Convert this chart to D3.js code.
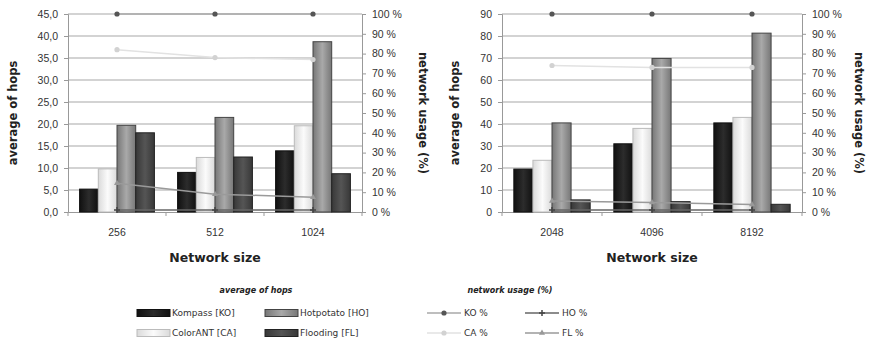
<!DOCTYPE html>
<html>
<head>
<meta charset="utf-8">
<script src="https://cdn.jsdelivr.net/npm/d3@7"></script>
<style>
  html, body { margin: 0; padding: 0; background: #fff; }
  svg { display: block; font-family: "DejaVu Sans", Verdana, sans-serif; }
</style>
</head>
<body>
<svg id="chart" width="871" height="346"></svg>
<script>
// Network sizes (x categories) for the two panels
const sizesSmall = ["256", "512", "1024"];
const sizesLarge = ["2048", "4096", "8192"];

// Average number of hops per protocol
const hopsKO_small = [5.2, 9.0, 13.9];
const hopsCA_small = [9.8, 12.4, 19.6];
const hopsHO_small = [19.7, 21.5, 38.7];
const hopsFL_small = [18.0, 12.5, 8.7];

const hopsKO_large = [19.5, 31.0, 40.5];
const hopsCA_large = [23.5, 38.0, 43.0];
const hopsHO_large = [40.5, 69.8, 81.3];
const hopsFL_large = [5.5, 4.7, 3.5];

// Network usage in percent per protocol
const usageKO_small = [100, 100, 100];
const usageCA_small = [82, 78, 77];
const usageHO_small = [1, 1, 1];
const usageFL_small = [14.5, 9, 7.5];

const usageKO_large = [100, 100, 100];
const usageCA_large = [74, 73, 73];
const usageHO_large = [1, 1, 1];
const usageFL_large = [5.5, 4.8, 3.8];

// Axis ticks
const hopTicksSmall = [0, 5, 10, 15, 20, 25, 30, 35, 40, 45];
const hopTicksLarge = [0, 10, 20, 30, 40, 50, 60, 70, 80, 90];
const usageTicks = [0, 10, 20, 30, 40, 50, 60, 70, 80, 90, 100];

const barSeries = ["Kompass [KO]", "ColorANT [CA]", "Hotpotato [HO]", "Flooding [FL]"];
const lineSeries = ["KO %", "HO %", "CA %", "FL %"];

const svg = d3.select("#chart");
const defs = svg.append("defs");

// Bar fills
function hGrad(id, stops) {
  const g = defs.append("linearGradient").attr("id", id)
    .attr("x1", "0%").attr("x2", "100%").attr("y1", "0%").attr("y2", "0%");
  stops.forEach(([o, c]) => g.append("stop").attr("offset", o).attr("stop-color", c));
}
hGrad("gKO", [["0%", "#101010"], ["50%", "#2c2c2c"], ["100%", "#101010"]]);
hGrad("gCA", [["0%", "#dadada"], ["50%", "#fbfbfb"], ["100%", "#dadada"]]);
hGrad("gHO", [["0%", "#777"], ["50%", "#a9a9a9"], ["100%", "#777"]]);
hGrad("gFL", [["0%", "#383838"], ["50%", "#555"], ["100%", "#383838"]]);

const barStyle = {
  "Kompass [KO]":  { fill: "url(#gKO)", stroke: "#111" },
  "ColorANT [CA]": { fill: "url(#gCA)", stroke: "#bbb" },
  "Hotpotato [HO]":{ fill: "url(#gHO)", stroke: "#444" },
  "Flooding [FL]": { fill: "url(#gFL)", stroke: "#222" }
};
const lineStyle = {
  "KO %": { stroke: "#a8a8a8", marker: "dot", mfill: "#555" },
  "HO %": { stroke: "#666", marker: "plus", mfill: "#444" },
  "CA %": { stroke: "#e2e2e2", marker: "dot", mfill: "#d2d2d2" },
  "FL %": { stroke: "#9a9a9a", marker: "tri", mfill: "#999" }
};

function drawMarker(g, type, x, y, st) {
  if (type === "dot") {
    g.append("circle").attr("cx", x).attr("cy", y).attr("r", 2.6).attr("fill", st.mfill);
  } else if (type === "plus") {
    g.append("path").attr("d", `M${x-3},${y}H${x+3}M${x},${y-3}V${y+3}`)
      .attr("stroke", st.mfill).attr("stroke-width", 1.5);
  } else {
    g.append("path").attr("d", d3.symbol(d3.symbolTriangle, 16)())
      .attr("transform", `translate(${x},${y})`).attr("fill", st.mfill);
  }
}

function panel(cfg) {
  const g = svg.append("g");
  const { left, right, top, bottom } = cfg;

  const x0 = d3.scaleBand().domain(cfg.sizes).range([left, right]).padding(0);
  const x1 = d3.scaleBand().domain(barSeries).range([0, x0.bandwidth()])
    .paddingInner(0).paddingOuter(cfg.outerPad);
  const y = d3.scaleLinear().domain([0, cfg.hopMax]).range([bottom, top]);
  const yr = d3.scaleLinear().domain([0, 100]).range([bottom, top]);

  // horizontal gridlines
  g.append("g").selectAll("line").data(cfg.hopTicks.slice(1)).join("line")
    .attr("x1", left).attr("x2", right)
    .attr("y1", d => y(d)).attr("y2", d => y(d))
    .attr("stroke", "#c4c4c4").attr("stroke-width", 1.6);

  // left axis
  const ax = g.append("g").attr("transform", `translate(${left},0)`)
    .call(d3.axisLeft(y).tickValues(cfg.hopTicks).tickSize(4).tickPadding(6)
      .tickFormat(cfg.hopFormat));
  ax.select(".domain").attr("stroke", "#999");
  ax.selectAll(".tick line").attr("stroke", "#999");
  ax.selectAll("text").attr("font-size", 10.5).attr("fill", "#333");

  // right axis
  const ar = g.append("g").attr("transform", `translate(${right},0)`)
    .call(d3.axisRight(yr).tickValues(usageTicks).tickSize(4).tickPadding(6)
      .tickFormat(d => d + " %"));
  ar.select(".domain").attr("stroke", "#999");
  ar.selectAll(".tick line").attr("stroke", "#999");
  ar.selectAll("text").attr("font-size", 10.5).attr("fill", "#333");

  // bottom axis
  const ab = g.append("g").attr("transform", `translate(0,${bottom})`)
    .call(d3.axisBottom(x0).tickSize(0).tickPadding(17));
  ab.select(".domain").attr("stroke", "#999");
  ab.selectAll("text").attr("font-size", 10.5).attr("fill", "#333");
  g.append("g").selectAll("line").data(d3.range(cfg.sizes.length + 1)).join("line")
    .attr("x1", i => left + i * x0.bandwidth()).attr("x2", i => left + i * x0.bandwidth())
    .attr("y1", bottom).attr("y2", bottom + 4).attr("stroke", "#999");

  // bars
  const hops = {
    "Kompass [KO]": cfg.hopsKO, "ColorANT [CA]": cfg.hopsCA,
    "Hotpotato [HO]": cfg.hopsHO, "Flooding [FL]": cfg.hopsFL
  };
  cfg.sizes.forEach((s, i) => {
    barSeries.forEach(name => {
      const v = hops[name][i];
      g.append("rect")
        .attr("x", x0(s) + x1(name)).attr("width", x1.bandwidth())
        .attr("y", y(v)).attr("height", y(0) - y(v))
        .attr("fill", barStyle[name].fill)
        .attr("stroke", barStyle[name].stroke).attr("stroke-width", 1);
    });
  });

  // usage lines
  const usage = { "KO %": cfg.usageKO, "HO %": cfg.usageHO, "CA %": cfg.usageCA, "FL %": cfg.usageFL };
  const line = d3.line().x((d, i) => x0(cfg.sizes[i]) + x0.bandwidth() / 2).y(d => yr(d));
  ["FL %", "HO %", "CA %", "KO %"].forEach(name => {
    const st = lineStyle[name];
    g.append("path").datum(usage[name]).attr("d", line)
      .attr("fill", "none").attr("stroke", st.stroke).attr("stroke-width", 1.5);
    usage[name].forEach((v, i) =>
      drawMarker(g, st.marker, x0(cfg.sizes[i]) + x0.bandwidth() / 2, yr(v), st));
  });

  // axis titles
  g.append("text")
    .attr("transform", `translate(${cfg.leftTitleX},${(top + bottom) / 2}) rotate(-90)`)
    .attr("text-anchor", "middle").attr("dominant-baseline", "central")
    .attr("font-size", 11.5).attr("font-weight", "bold").attr("fill", "#222")
    .text("average of hops");
  g.append("text")
    .attr("transform", `translate(${cfg.rightTitleX},${(top + bottom) / 2}) rotate(90)`)
    .attr("text-anchor", "middle").attr("dominant-baseline", "central")
    .attr("font-size", 11.5).attr("font-weight", "bold").attr("fill", "#222")
    .text("network usage (%)");
  g.append("text")
    .attr("x", (left + right) / 2).attr("y", 262)
    .attr("text-anchor", "middle")
    .attr("font-size", 12.5).attr("font-weight", "bold").attr("fill", "#222")
    .text("Network size");
}

panel({
  sizes: sizesSmall, left: 68, right: 362, top: 14, bottom: 212,
  hopMax: 45, hopTicks: hopTicksSmall, outerPad: 0.62,
  hopFormat: d => d3.format(".1f")(d).replace(".", ","),
  hopsKO: hopsKO_small, hopsCA: hopsCA_small, hopsHO: hopsHO_small, hopsFL: hopsFL_small,
  usageKO: usageKO_small, usageCA: usageCA_small, usageHO: usageHO_small, usageFL: usageFL_small,
  leftTitleX: 13, rightTitleX: 423
});

panel({
  sizes: sizesLarge, left: 502, right: 802, top: 14, bottom: 212,
  hopMax: 90, hopTicks: hopTicksLarge, outerPad: 0.62,
  hopFormat: d => String(d),
  hopsKO: hopsKO_large, hopsCA: hopsCA_large, hopsHO: hopsHO_large, hopsFL: hopsFL_large,
  usageKO: usageKO_large, usageCA: usageCA_large, usageHO: usageHO_large, usageFL: usageFL_large,
  leftTitleX: 455, rightTitleX: 859
});

// legend
const lg = svg.append("g").attr("font-size", 9).attr("fill", "#333");
lg.append("text").attr("x", 256).attr("y", 293).attr("text-anchor", "middle")
  .attr("font-size", 8).attr("font-weight", "bold").attr("font-style", "italic")
  .attr("fill", "#222").text("average of hops");
lg.append("text").attr("x", 510).attr("y", 293).attr("text-anchor", "middle")
  .attr("font-size", 8).attr("font-weight", "bold").attr("font-style", "italic")
  .attr("fill", "#222").text("network usage (%)");

const barLegendPos = [[137, 313], [137, 333], [265, 313], [265, 333]];
barSeries.forEach((name, i) => {
  const [lx, ly] = barLegendPos[i];
  lg.append("rect").attr("x", lx).attr("y", ly - 3.5).attr("width", 33).attr("height", 7)
    .attr("fill", barStyle[name].fill).attr("stroke", barStyle[name].stroke);
  lg.append("text").attr("x", lx + 35).attr("y", ly).attr("dominant-baseline", "central")
    .text(name);
});

const lineLegendPos = [[427, 313], [525, 313], [427, 333], [525, 333]];
lineSeries.forEach((name, i) => {
  const [lx, ly] = lineLegendPos[i];
  const st = lineStyle[name];
  lg.append("line").attr("x1", lx).attr("x2", lx + 34).attr("y1", ly).attr("y2", ly)
    .attr("stroke", st.stroke).attr("stroke-width", 1.5);
  drawMarker(lg, st.marker, lx + 17, ly, st);
  lg.append("text").attr("x", lx + 37).attr("y", ly).attr("dominant-baseline", "central")
    .text(name);
});
</script>
</body>
</html>
